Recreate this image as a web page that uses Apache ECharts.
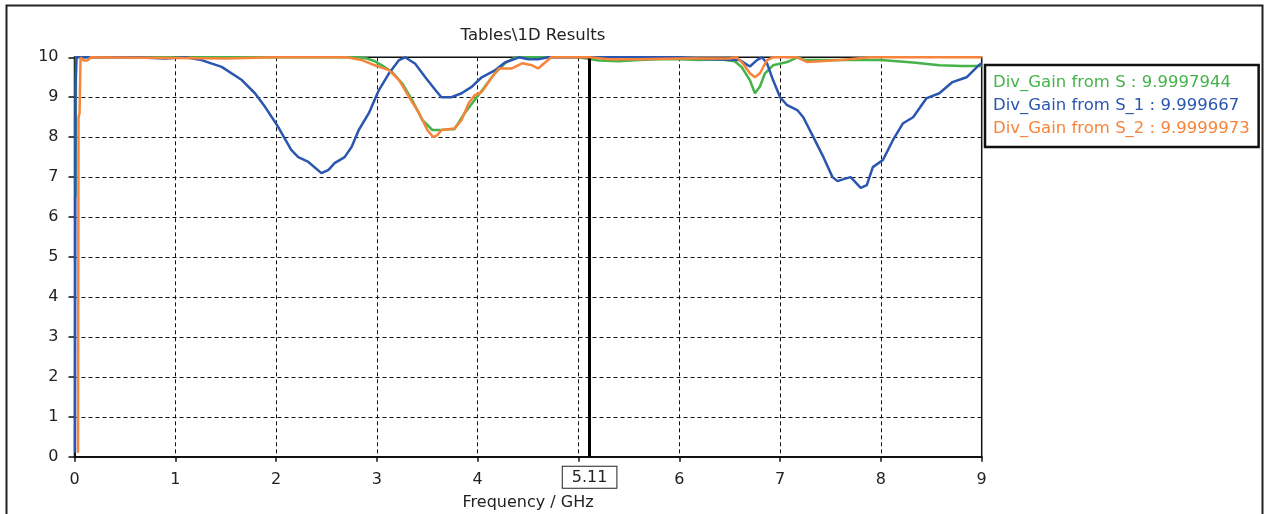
<!DOCTYPE html>
<html>
<head>
<meta charset="utf-8">
<script src="https://cdn.jsdelivr.net/npm/echarts@6/dist/echarts.min.js"></script>
<style>
html,body{margin:0;padding:0;background:#fff;}
#chart{width:1268px;height:514px;}
</style>
</head>
<body>
<div id="chart"></div>
<script>
const titleText = 'Tables\\1D Results';
const xAxisName = 'Frequency / GHz';
const seriesNames = ['Div_Gain from S', 'Div_Gain from S_1', 'Div_Gain from S_2'];
const legendValues = ['9.9997944', '9.999667', '9.9999973'];
const markerFreq = 5.11;

// [frequency GHz, value]
const gainS = [[0.01,6.5],[0.015,10],[0.05,10],[1.0,10],[2.0,10],[2.8,10],[2.9,9.97],[2.98,9.9],[3.05,9.8],[3.15,9.63],[3.25,9.35],[3.35,8.93],[3.45,8.43],[3.55,8.18],[3.64,8.18],[3.72,8.2],[3.77,8.2],[3.82,8.4],[3.87,8.6],[3.97,8.93],[4.07,9.26],[4.17,9.6],[4.27,9.85],[4.35,9.97],[4.41,10],[5.0,10],[5.2,9.92],[5.4,9.9],[5.6,9.93],[5.8,9.95],[6.0,9.95],[6.2,9.93],[6.4,9.95],[6.55,9.9],[6.62,9.75],[6.7,9.43],[6.75,9.1],[6.8,9.27],[6.85,9.6],[6.93,9.8],[7.07,9.88],[7.17,10],[7.25,9.93],[7.6,9.93],[8.0,9.93],[8.32,9.87],[8.58,9.8],[8.8,9.78],[9.0,9.78]];

const gainS1 = [[0.005,0.1],[0.01,9.3],[0.02,10],[0.1,10],[0.6,10],[0.9,9.97],[1.1,10],[1.26,9.93],[1.46,9.76],[1.66,9.43],[1.79,9.1],[1.89,8.76],[2.02,8.26],[2.15,7.68],[2.22,7.5],[2.32,7.38],[2.45,7.1],[2.52,7.18],[2.58,7.35],[2.68,7.5],[2.75,7.76],[2.82,8.18],[2.92,8.6],[3.02,9.18],[3.12,9.6],[3.22,9.93],[3.28,10],[3.38,9.84],[3.48,9.5],[3.58,9.18],[3.64,9.0],[3.74,9.0],[3.84,9.1],[3.94,9.26],[4.04,9.5],[4.17,9.67],[4.27,9.87],[4.41,10],[4.5,9.95],[4.6,9.95],[4.7,10],[5.0,10],[5.5,10],[6.0,10],[6.3,9.95],[6.6,9.93],[6.7,9.77],[6.77,9.93],[6.82,10],[6.87,9.85],[6.93,9.43],[7.0,9.0],[7.07,8.8],[7.17,8.68],[7.23,8.5],[7.33,8.0],[7.43,7.5],[7.52,7.0],[7.57,6.9],[7.63,6.95],[7.7,7.0],[7.8,6.73],[7.86,6.8],[7.92,7.25],[8.02,7.43],[8.12,7.93],[8.22,8.35],[8.32,8.5],[8.45,8.97],[8.58,9.1],[8.71,9.38],[8.85,9.5],[8.97,9.8],[9.0,9.85]];

const gainS2 = [[0.035,0.1],[0.04,8.5],[0.05,8.6],[0.06,10],[0.09,9.92],[0.13,9.92],[0.16,10],[1.5,9.97],[2.0,10],[2.7,10],[2.85,9.93],[2.98,9.8],[3.12,9.68],[3.22,9.43],[3.32,9.0],[3.42,8.6],[3.5,8.18],[3.56,8.0],[3.6,8.05],[3.64,8.18],[3.77,8.22],[3.84,8.43],[3.91,8.85],[3.97,9.05],[4.04,9.13],[4.14,9.5],[4.21,9.72],[4.34,9.72],[4.44,9.85],[4.54,9.8],[4.6,9.72],[4.66,9.85],[4.73,10],[5.11,10],[5.3,9.95],[5.6,9.95],[6.0,9.97],[6.5,9.97],[6.57,10],[6.63,9.85],[6.7,9.6],[6.75,9.5],[6.8,9.6],[6.87,9.93],[6.93,10],[7.17,10],[7.27,9.88],[7.6,9.93],[7.9,10],[9.0,10]];

const colors = ['#45b34a', '#2a56b0', '#f7843a'];
const seriesData = [gainS, gainS1, gainS2];
const FONT = 'DejaVu Sans';

const chart = echarts.init(document.getElementById('chart'), null, {renderer: 'canvas'});

const series = seriesNames.map((name, i) => ({
  name: name,
  type: 'line',
  data: seriesData[i],
  showSymbol: false,
  symbol: 'none',
  lineStyle: {color: colors[i], width: 2.5},
  itemStyle: {color: colors[i]},
  animation: false,
  z: 3 + i
}));

series.push({
  name: 'marker',
  type: 'line',
  data: [],
  animation: false,
  markLine: {
    silent: true,
    symbol: 'none',
    animation: false,
    lineStyle: {color: '#000', width: 3, type: 'solid'},
    label: {
      show: true,
      position: 'start',
      distance: 10,
      formatter: String(markerFreq),
      color: '#222',
      fontFamily: FONT,
      fontSize: 16,
      backgroundColor: '#fff',
      borderColor: '#222',
      borderWidth: 1,
      padding: [3, 9, 2, 9]
    },
    data: [{xAxis: markerFreq}]
  },
  z: 10
});

chart.setOption({
  backgroundColor: '#fff',
  animation: false,
  title: {
    text: titleText,
    left: 528,
    top: 22,
    textAlign: 'center',
    textStyle: {fontFamily: FONT, fontSize: 16.5, fontWeight: 'normal', color: '#222'}
  },
  legend: {
    orient: 'vertical',
    left: 985,
    top: 65,
    icon: 'none',
    itemWidth: 0,
    itemHeight: 14,
    itemGap: 3,
    padding: [8, 9, 8, 3],
    borderColor: '#111',
    borderWidth: 2.5,
    selectedMode: false,
    data: seriesNames.map((n, i) => ({name: n, textStyle: {color: colors[i]}})),
    formatter: function (name) {
      return name + ' : ' + legendValues[seriesNames.indexOf(name)];
    },
    textStyle: {fontFamily: FONT, fontSize: 16.5, lineHeight: 20}
  },
  grid: {left: 74.5, right: 286.3, top: 57.3, bottom: 57.3, show: true, outerBoundsMode: 'none', containLabel: false, borderColor: '#111', borderWidth: 1.5, backgroundColor: 'transparent'},
  xAxis: {
    type: 'value',
    min: 0, max: 9, interval: 1,
    name: xAxisName,
    nameLocation: 'middle',
    nameGap: 38,
    nameTextStyle: {fontFamily: FONT, fontSize: 16, color: '#222'},
    axisLine: {show: true, onZero: false, lineStyle: {color: '#111', width: 2}},
    axisTick: {show: true, inside: false, length: 5, lineStyle: {color: '#111', width: 1.5}},
    axisLabel: {fontFamily: FONT, fontSize: 16, color: '#222', margin: 15},
    splitLine: {show: true, lineStyle: {color: '#111', width: 1, type: [4, 3]}}
  },
  yAxis: {
    type: 'value',
    min: 0, max: 10, interval: 1,
    axisLine: {show: true, onZero: false, lineStyle: {color: '#111', width: 2}},
    axisTick: {show: true, inside: false, length: 6, lineStyle: {color: '#111', width: 1.5}},
    axisLabel: {fontFamily: FONT, fontSize: 16, color: '#222', margin: 16},
    splitLine: {show: true, lineStyle: {color: '#111', width: 1, type: [4, 3]}}
  },
  graphic: [{
    type: 'rect',
    shape: {x: 6.5, y: 5.5, width: 1256, height: 530},
    style: {fill: null, stroke: '#222', lineWidth: 2},
    silent: true,
    z: -1
  }],
  series: series
});
</script>
</body>
</html>
